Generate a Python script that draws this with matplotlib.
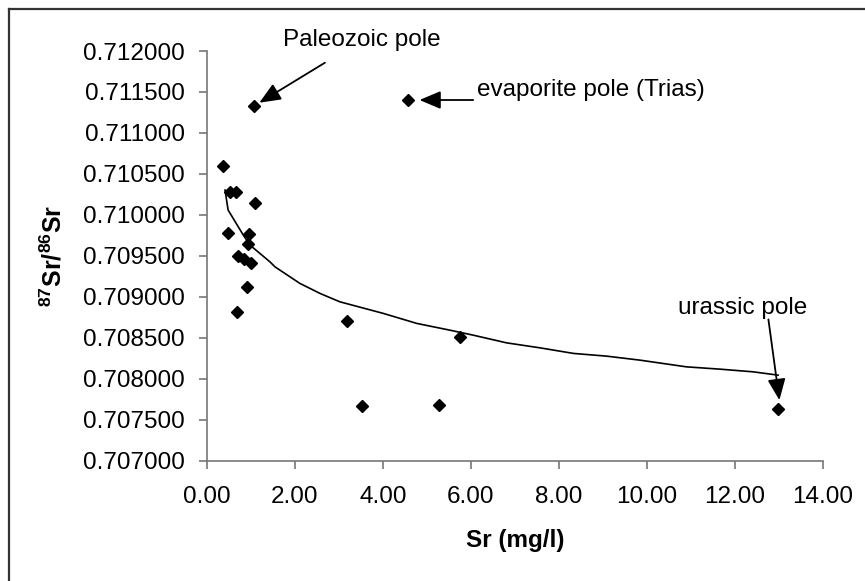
import matplotlib.pyplot as plt
from matplotlib.lines import Line2D

plt.rcParams['font.family'] = ['Liberation Sans', 'DejaVu Sans']
plt.rcParams['mathtext.fontset'] = 'custom'
plt.rcParams['mathtext.rm'] = 'Liberation Sans'
plt.rcParams['mathtext.bf'] = 'Liberation Sans:bold'

# Sr content vs 87Sr/86Sr ratio
sr_mg_l = [0.37, 0.52, 0.66, 1.09, 0.48, 0.96, 0.94, 0.70, 0.83, 1.00,
           0.90, 0.675, 1.075, 4.56, 3.18, 5.76, 3.53, 5.27, 12.98]
sr_ratio = [0.710596, 0.710282, 0.710282, 0.710140, 0.709781, 0.709766,
            0.709640, 0.709502, 0.709466, 0.709411, 0.709115, 0.708817,
            0.711325, 0.711397, 0.708707, 0.708512, 0.707662, 0.707680,
            0.707625]

# mixing curve as drawn on the chart
curve_x = [0.41, 0.48, 0.825, 0.977, 1.43, 1.545, 2.11, 2.57, 3.02, 4.01,
           4.77, 5.52, 6.05, 6.81, 7.57, 8.33, 9.08, 9.84, 10.90, 11.66,
           12.42, 12.98]
curve_y = [0.710303, 0.710059, 0.709753, 0.709631, 0.709427, 0.709366,
           0.709164, 0.709041, 0.708939, 0.708797, 0.708675, 0.708593,
           0.708532, 0.708438, 0.708377, 0.708309, 0.708276, 0.708227,
           0.708145, 0.708117, 0.708084, 0.708044]

x_ticks = [0, 2, 4, 6, 8, 10, 12, 14]
y_ticks = [0.707, 0.7075, 0.708, 0.7085, 0.709, 0.7095, 0.710, 0.7105,
           0.711, 0.7115, 0.712]

fs = 17.5

fig = plt.figure(figsize=(8.65, 5.81), dpi=100)
ax = fig.add_axes([0.2393, 0.2071, 0.7121, 0.7051])

ax.plot(curve_x, curve_y, color='black', linewidth=1.2, zorder=2)
ax.plot(sr_mg_l, sr_ratio, linestyle='none', marker='D', markersize=6.5,
        color='black', zorder=3)

ax.set_xlim(0, 14)
ax.set_ylim(0.707, 0.712)
ax.set_xticks(x_ticks)
ax.set_xticklabels([f"{v:.2f}" for v in x_ticks])
ax.set_yticks(y_ticks)
ax.set_yticklabels([f"{v:.6f}" for v in y_ticks])

for side in ['top', 'right']:
    ax.spines[side].set_visible(False)
for side in ['left', 'bottom']:
    ax.spines[side].set_color('#777777')
    ax.spines[side].set_linewidth(1.2)
ax.tick_params(axis='both', direction='out', length=6, width=1.2,
               color='#777777', labelsize=fs)
ax.tick_params(axis='y', pad=10)
ax.tick_params(axis='x', pad=12)

ax.set_xlabel("Sr (mg/l)", fontsize=fs, fontweight='bold', labelpad=15)
ax.set_ylabel(r"$\mathbf{^{87}Sr/^{86}Sr}$", fontsize=18, labelpad=12)

# annotations
arrow = dict(arrowstyle='-|>,head_length=1.3,head_width=0.55',
             color='black', linewidth=1.3, shrinkA=0, shrinkB=0)
ax.annotate('', xy=(1.19, 0.711369), xytext=(2.68, 0.711857),
            arrowprops=arrow, annotation_clip=False)
ax.text(3.52, 0.712130, "Paleozoic pole", fontsize=fs, ha='center',
        va='center', clip_on=False)

ax.annotate('', xy=(4.83, 0.711402), xytext=(6.05, 0.711402),
            arrowprops=arrow)
ax.text(6.13, 0.711524, "evaporite pole (Trias)", fontsize=fs,
        ha='left', va='center')

ax.annotate('', xy=(13.01, 0.707739), xytext=(12.76, 0.708724),
            arrowprops=arrow)
ax.text(12.18, 0.708862, "urassic pole", fontsize=fs, ha='center',
        va='center')

# outer chart frame (top and left edges visible)
fig.add_artist(Line2D([9 / 865, 9 / 865], [0, 1 - 9 / 581],
                      color='#333333', linewidth=1.6))
fig.add_artist(Line2D([9 / 865, 1], [1 - 9 / 581, 1 - 9 / 581],
                      color='#333333', linewidth=1.6))

fig.savefig('out.png', dpi=100)
